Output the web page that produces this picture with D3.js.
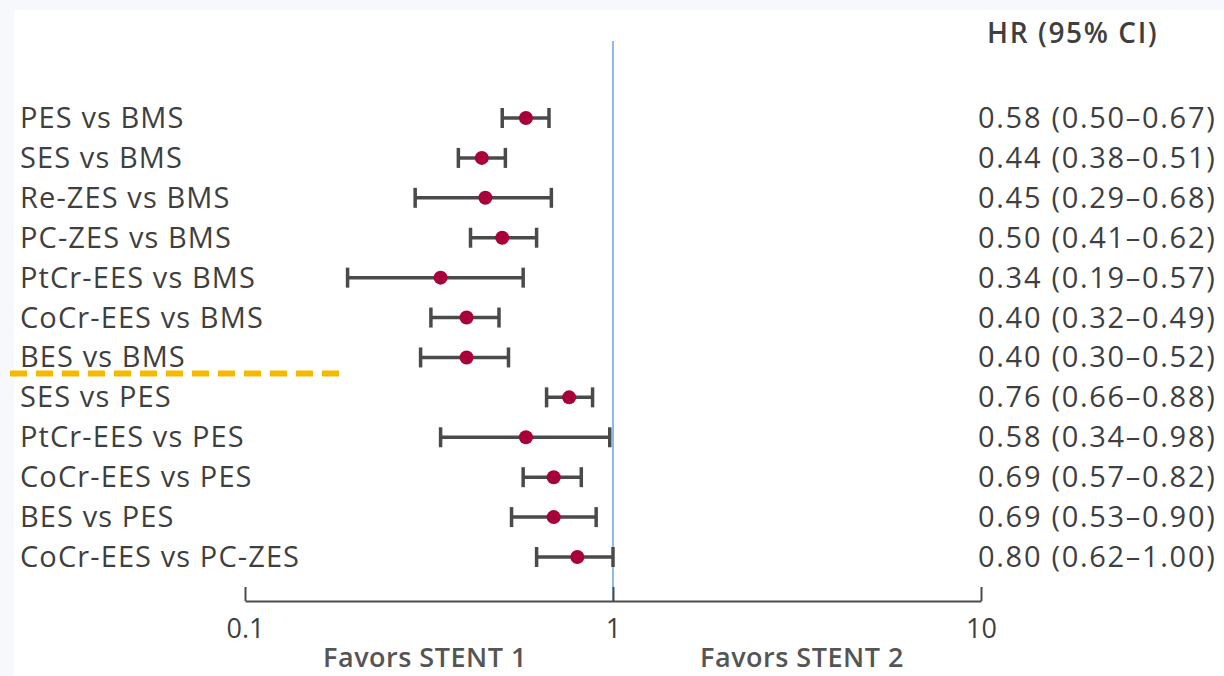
<!DOCTYPE html>
<html>
<head>
<meta charset="utf-8">
<script src="https://cdn.jsdelivr.net/npm/d3@7"></script>
<style>
  html, body { margin: 0; padding: 0; background: #fff; }
  #chart { width: 1224px; height: 676px; }
  text { font-family: "Open Sans", sans-serif; }
</style>
</head>
<body>
<div id="chart"></div>
<script>
// Comparações e valores (HR, IC 95%)
const comparisons = [
  "PES vs BMS", "SES vs BMS", "Re-ZES vs BMS", "PC-ZES vs BMS",
  "PtCr-EES vs BMS", "CoCr-EES vs BMS", "BES vs BMS",
  "SES vs PES", "PtCr-EES vs PES", "CoCr-EES vs PES", "BES vs PES",
  "CoCr-EES vs PC-ZES"
];
const hr    = [0.58, 0.44, 0.45, 0.50, 0.34, 0.40, 0.40, 0.76, 0.58, 0.69, 0.69, 0.80];
const lower = [0.50, 0.38, 0.29, 0.41, 0.19, 0.32, 0.30, 0.66, 0.34, 0.57, 0.53, 0.62];
const upper = [0.67, 0.51, 0.68, 0.62, 0.57, 0.49, 0.52, 0.88, 0.98, 0.82, 0.90, 1.00];
const tickValues = [0.1, 1, 10];
const tickLabels = ["0.1", "1", "10"];

const data = comparisons.map((c, i) => ({ label: c, hr: hr[i], lo: lower[i], hi: upper[i] }));
const fmt = d3.format(".2f");

const width = 1224, height = 676;
const svg = d3.select("#chart").append("svg")
  .attr("width", width)
  .attr("height", height);

// fundo levemente azulado nas bordas
svg.append("rect").attr("width", width).attr("height", height).attr("fill", "#f6f8fb");
svg.append("rect").attr("x", 14).attr("y", 10).attr("width", width - 14).attr("height", height - 10).attr("fill", "#fff");

const x = d3.scaleLog().domain([0.1, 10]).range([245, 981]);
const y = d3.scalePoint().domain(comparisons).range([118, 557]);
const axisY = 601;

// linha de referência em HR = 1
svg.append("line")
  .attr("x1", x(1)).attr("x2", x(1))
  .attr("y1", 41).attr("y2", axisY)
  .attr("stroke", "#8dbbe3")
  .attr("stroke-width", 2);

// eixo x
const axis = svg.append("g")
  .attr("transform", `translate(0,${axisY})`)
  .call(d3.axisTop(x).tickValues(tickValues).tickFormat((d, i) => tickLabels[i]).tickSize(14).tickSizeOuter(0));
axis.select(".domain").attr("stroke", "#4a4a4a").attr("stroke-width", 2);
axis.selectAll(".tick line").attr("stroke", "#4a4a4a").attr("stroke-width", 2);
axis.selectAll(".tick text")
  .attr("y", 37)
  .attr("fill", "#3f3f3f")
  .style("font-size", "27px");

// legenda dos lados
svg.append("text")
  .attr("x", 425).attr("y", 667)
  .attr("text-anchor", "middle")
  .attr("fill", "#555")
  .style("font-size", "27px")
  .style("font-weight", "600")
  .style("letter-spacing", "0.5px")
  .text("Favors STENT 1");

svg.append("text")
  .attr("x", 802).attr("y", 667)
  .attr("text-anchor", "middle")
  .attr("fill", "#555")
  .style("font-size", "27px")
  .style("font-weight", "600")
  .style("letter-spacing", "0.5px")
  .text("Favors STENT 2");

// cabeçalho
svg.append("text")
  .attr("x", 987).attr("y", 43)
  .attr("fill", "#3f3f3f")
  .style("font-size", "28px")
  .style("font-weight", "600")
  .style("letter-spacing", "1.6px")
  .text("HR (95% CI)");

// linha tracejada separando grupos
const sepY = (y("BES vs BMS") + y("SES vs PES")) / 2 - 4;
svg.append("line")
  .attr("x1", 10).attr("x2", 342)
  .attr("y1", sepY).attr("y2", sepY)
  .attr("stroke", "#f7b900")
  .attr("stroke-width", 6)
  .attr("stroke-dasharray", "17,9");

const rows = svg.append("g").selectAll("g")
  .data(data)
  .join("g")
  .attr("transform", d => `translate(0,${y(d.label)})`);

rows.append("text")
  .attr("x", 20).attr("y", 10)
  .attr("fill", "#3f3f3f")
  .style("font-size", "29px")
  .style("letter-spacing", "1.1px")
  .text(d => d.label);

rows.append("text")
  .attr("x", 978).attr("y", 10)
  .attr("fill", "#3f3f3f")
  .style("font-size", "29px")
  .style("letter-spacing", "1.7px")
  .text(d => `${fmt(d.hr)} (${fmt(d.lo)}–${fmt(d.hi)})`);

// intervalos de confiança
rows.append("line")
  .attr("x1", d => x(d.lo)).attr("x2", d => x(d.hi))
  .attr("stroke", "#4a4a4a").attr("stroke-width", 3.5);
rows.append("line")
  .attr("x1", d => x(d.lo)).attr("x2", d => x(d.lo))
  .attr("y1", -10).attr("y2", 10)
  .attr("stroke", "#4a4a4a").attr("stroke-width", 3.5);
rows.append("line")
  .attr("x1", d => x(d.hi)).attr("x2", d => x(d.hi))
  .attr("y1", -10).attr("y2", 10)
  .attr("stroke", "#4a4a4a").attr("stroke-width", 3.5);

rows.append("circle")
  .attr("cx", d => x(d.hr))
  .attr("r", 7)
  .attr("fill", "#a8003a");
</script>
</body>
</html>
